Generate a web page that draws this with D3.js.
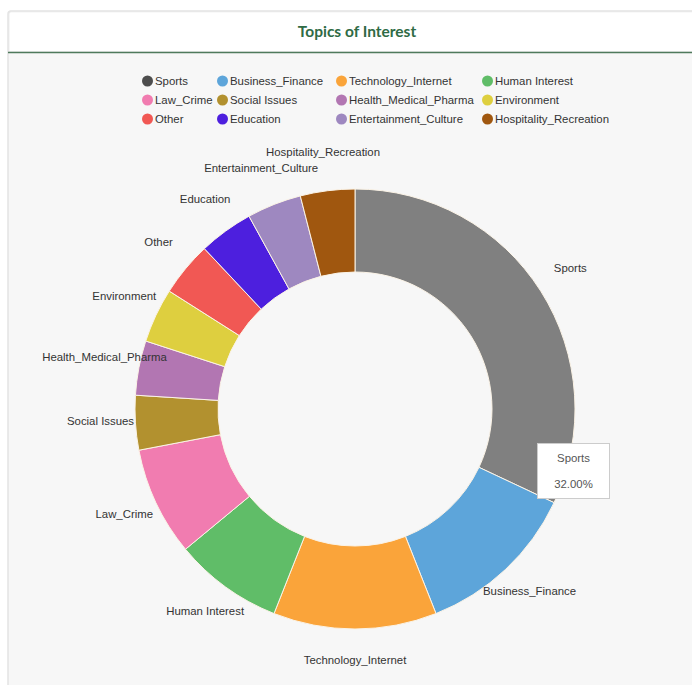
<!DOCTYPE html>
<html>
<head>
<meta charset="utf-8">
<script src="https://cdn.jsdelivr.net/npm/d3@7"></script>
<style>
  html, body { margin: 0; padding: 0; background: #ffffff; }
  svg { display: block; }
  text { font-family: "Liberation Sans", Arial, sans-serif; }
</style>
</head>
<body>
<svg id="chart" width="692" height="685"></svg>
<script>
// ---- data ----
const title = "Topics of Interest";
const categories = ["Sports", "Business_Finance", "Technology_Internet", "Human Interest",
  "Law_Crime", "Social Issues", "Health_Medical_Pharma", "Environment",
  "Other", "Education", "Entertainment_Culture", "Hospitality_Recreation"];
const values = [32, 12, 12, 8, 8, 4, 4, 4, 4, 4, 4, 4];
const colors = ["#4d4d4d", "#5da5da", "#faa43a", "#60bd68", "#f17cb0", "#b2912f",
  "#b276b2", "#decf3f", "#f15854", "#4d1fde", "#9e88c0", "#a0570f"];
const highlighted = "Sports";

// ---- layout ----
const svg = d3.select("#chart");
const W = 692, H = 685;
const cardX = 8, cardY = 11, headerBottom = 52;
const fs = "11.4px";

// card
svg.append("rect").attr("x", cardX).attr("y", cardY).attr("width", W + 20).attr("height", H + 20)
  .attr("rx", 3).attr("fill", "#f7f7f7").attr("stroke", "#e3e3e3").attr("stroke-width", 1.5);
svg.append("path")
  .attr("d", `M${cardX + 0.75},${headerBottom} V${cardY + 3} Q${cardX + 0.75},${cardY + 0.75} ${cardX + 3},${cardY + 0.75} H${W + 5} V${headerBottom} Z`)
  .attr("fill", "#ffffff").attr("stroke", "#e6e6e6").attr("stroke-width", 1.2);
svg.append("line").attr("x1", cardX).attr("x2", W).attr("y1", headerBottom + 0.5).attr("y2", headerBottom + 0.5)
  .attr("stroke", "#4f7a5c").attr("stroke-width", 1.6);
svg.append("text").attr("x", 357).attr("y", 36.5).attr("text-anchor", "middle")
  .style("font-family", "Lato, 'Open Sans', sans-serif").style("font-weight", "bold")
  .style("font-size", "15.5px").attr("fill", "#2f6b45").text(title);

// legend
const colX = [142, 217, 336, 482];
const rowY = [81, 100, 119];
const legend = svg.append("g");
categories.forEach((c, i) => {
  const col = i % 4, row = Math.floor(i / 4);
  const g = legend.append("g").attr("transform", `translate(${colX[col]},${rowY[row]})`);
  g.append("circle").attr("cx", 5.5).attr("cy", 0).attr("r", 5.5).attr("fill", colors[i]);
  g.append("text").attr("x", 13).attr("y", 4).style("font-size", fs).attr("fill", "#333").text(c);
});

// donut
const cx = 355, cy = 409, outerR = 220, innerR = 137, labelR = 255;
const data = categories.map((c, i) => ({ name: c, value: values[i], color: colors[i] }));
const pie = d3.pie().value(d => d.value).sort(null);
const arcs = pie(data);
const arc = d3.arc().innerRadius(innerR).outerRadius(outerR);
const g = svg.append("g").attr("transform", `translate(${cx},${cy})`);
g.selectAll("path.slice").data(arcs).join("path").attr("class", "slice")
  .attr("d", arc)
  .attr("fill", d => d.data.color)
  .attr("fill-opacity", d => d.data.name === highlighted ? 0.7 : 1)
  .attr("stroke", "#fbf3e6").attr("stroke-width", 1);

g.selectAll("text.lbl").data(arcs).join("text").attr("class", "lbl")
  .attr("x", d => Math.sin((d.startAngle + d.endAngle) / 2) * labelR)
  .attr("y", d => -Math.cos((d.startAngle + d.endAngle) / 2) * labelR)
  .attr("text-anchor", "middle").style("font-size", fs).attr("fill", "#333")
  .text(d => d.data.name);

// tooltip
const total = d3.sum(values);
const hi = arcs.find(d => d.data.name === highlighted);
const tip = svg.append("g").attr("transform", "translate(537,443)");
tip.append("rect").attr("x", 0.5).attr("y", 0.5).attr("width", 72).attr("height", 55)
  .attr("fill", "#ffffff").attr("stroke", "#cccccc");
tip.append("text").attr("x", 36.5).attr("y", 19).attr("text-anchor", "middle")
  .style("font-size", fs).attr("fill", "#555").text(hi.data.name);
tip.append("text").attr("x", 36.5).attr("y", 45).attr("text-anchor", "middle")
  .style("font-size", fs).attr("fill", "#555").text((hi.data.value / total * 100).toFixed(2) + "%");
</script>
</body>
</html>
